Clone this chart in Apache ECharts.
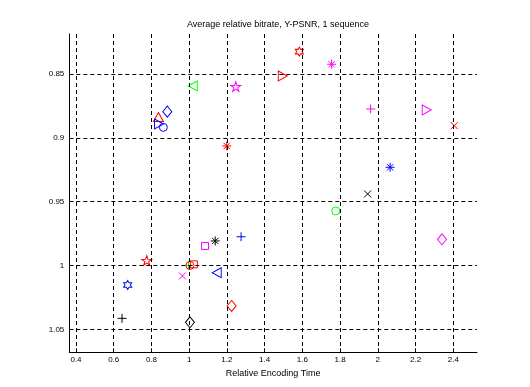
<!DOCTYPE html>
<html>
<head>
<meta charset="utf-8">
<script src="https://cdn.jsdelivr.net/npm/echarts@6/dist/echarts.min.js"></script>
<style>
html,body{margin:0;padding:0;background:#fff;}
#chart{width:530px;height:387px;}
</style>
</head>
<body>
<div id="chart"></div>
<script>
// ---- data ----
const titleText = 'Average relative bitrate, Y-PSNR, 1 sequence';
const xAxisName = 'Relative Encoding Time';
const xTicks = [0.4, 0.6, 0.8, 1, 1.2, 1.4, 1.6, 1.8, 2, 2.2, 2.4];
const yTicks = [0.85, 0.9, 0.95, 1, 1.05];
const xRange = [0.3645, 2.5256];
const yRange = [0.8187, 1.068];

const pointX = [1.584, 1.755, 1.496, 1.019, 1.247, 1.962, 2.259, 0.884, 0.837, 0.840,
                0.863, 2.405, 1.199, 2.065, 1.946, 1.777, 1.275, 1.138, 2.340, 1.084,
                0.775, 0.996, 1.004, 1.025, 1.146, 0.964, 0.674, 1.225, 0.644, 1.004];
const pointY = [0.8325, 0.8424, 0.8516, 0.8594, 0.8599, 0.8774, 0.8782, 0.8795, 0.8837, 0.8892,
                0.8918, 0.8905, 0.9064, 0.9231, 0.9440, 0.9573, 0.9775, 0.9808, 0.9795, 0.9847,
                0.9961, 0.9999, 1.0000, 0.9991, 1.0057, 1.0082, 1.0153, 1.0317, 1.0414, 1.0445];
const pointMarker = ['h', '*', '>', '<', 'p', '+', '>', 'd', '^', '>',
                     'o', 'x', '*', '*', 'x', 'o', '+', '*', 'd', 's',
                     'p', '+', 'o', 's', '<', 'x', 'h', 'd', '+', 'd'];
const pointColor = ['r', 'm', 'r', 'g', 'm', 'm', 'm', 'b', 'r', 'b',
                    'b', 'r', 'r', 'b', 'k', 'g', 'b', 'k', 'm', 'm',
                    'r', 'g', 'r', 'r', 'b', 'm', 'b', 'r', 'k', 'k'];

// ---- styles ----
const colorMap = {r: '#ff0000', g: '#00ff00', b: '#0000ff', m: '#ff00ff', k: '#000000'};
const markerMap = {
  'o': {symbol: 'circle', size: 8},
  's': {symbol: 'path://M0,0L10,0L10,10L0,10Z', size: 7},
  'd': {symbol: 'path://M5,0L10,5L5,10L0,5Z', size: [9, 11]},
  '^': {symbol: 'path://M5,0L10,10L0,10Z', size: [10, 9]},
  '>': {symbol: 'path://M0,0L10,5L0,10Z', size: [9, 10]},
  '<': {symbol: 'path://M10,0L0,5L10,10Z', size: [9, 10]},
  '+': {symbol: 'path://M0,5L10,5M5,0L5,10', size: 9},
  'x': {symbol: 'path://M0,0L10,10M10,0L0,10', size: 7},
  '*': {symbol: 'path://M0,5L10,5M5,0L5,10M1.5,1.5L8.5,8.5M8.5,1.5L1.5,8.5', size: 9},
  'p': {symbol: 'path://M50,0L61.2,34.5L97.6,34.5L68.2,55.9L79.4,90.5L50,69.1L20.6,90.5L31.8,55.9L2.4,34.5L38.8,34.5Z', size: [10, 9.5]},
  'h': {symbol: 'path://M50,0L64.4,25L93.3,25L78.9,50L93.3,75L64.4,75L50,100L35.6,75L6.7,75L21.1,50L6.7,25L35.6,25Z', size: [8, 9]}
};

const series = [];
// grid lines drawn with markLine
series.push({
  type: 'scatter', data: [], silent: true,
  markLine: {
    silent: true, symbol: 'none', animation: false,
    label: {show: false},
    lineStyle: {color: '#000', type: [4, 3], width: 1},
    data: xTicks.map(v => ({xAxis: v})).concat(yTicks.map(v => ({yAxis: v})))
  }
});
for (let i = 0; i < pointX.length; i++) {
  const m = markerMap[pointMarker[i]];
  series.push({
    type: 'scatter',
    data: [[pointX[i], pointY[i]]],
    symbol: m.symbol,
    symbolSize: m.size,
    itemStyle: {color: 'transparent', borderColor: colorMap[pointColor[i]], borderWidth: 1, opacity: 1},
    emphasis: {disabled: true}
  });
}

const labelFont = {fontFamily: 'Liberation Sans, Arial, sans-serif', fontSize: 8, color: '#000'};
const chart = echarts.init(document.getElementById('chart'), null, {renderer: 'canvas'});
chart.setOption({
  animation: false,
  backgroundColor: '#fff',
  title: {
    text: titleText, left: 273, top: 15, textAlign: 'center',
    textStyle: {fontFamily: 'Liberation Sans, Arial, sans-serif', fontSize: 9, fontWeight: 'normal', color: '#000'}
  },
  grid: {left: 69.3, right: 53, top: 34, bottom: 34.7},
  xAxis: {
    type: 'value', min: xRange[0], max: xRange[1],
    name: xAxisName, nameLocation: 'middle', nameGap: 17,
    nameTextStyle: {fontFamily: 'Liberation Sans, Arial, sans-serif', fontSize: 9, color: '#000'},
    axisLine: {show: true, onZero: false, lineStyle: {color: '#000', width: 1}},
    axisTick: {show: true, inside: true, length: 4, customValues: xTicks, lineStyle: {color: '#000'}},
    axisLabel: Object.assign({customValues: xTicks, margin: 3}, labelFont),
    splitLine: {show: false}
  },
  yAxis: {
    type: 'value', min: yRange[0], max: yRange[1], inverse: true,
    axisLine: {show: true, onZero: false, lineStyle: {color: '#000', width: 1}},
    axisTick: {show: true, inside: true, length: 4, customValues: yTicks, lineStyle: {color: '#000'}},
    axisLabel: Object.assign({customValues: yTicks, margin: 5}, labelFont),
    splitLine: {show: false}
  },
  series: series
});
</script>
</body>
</html>
